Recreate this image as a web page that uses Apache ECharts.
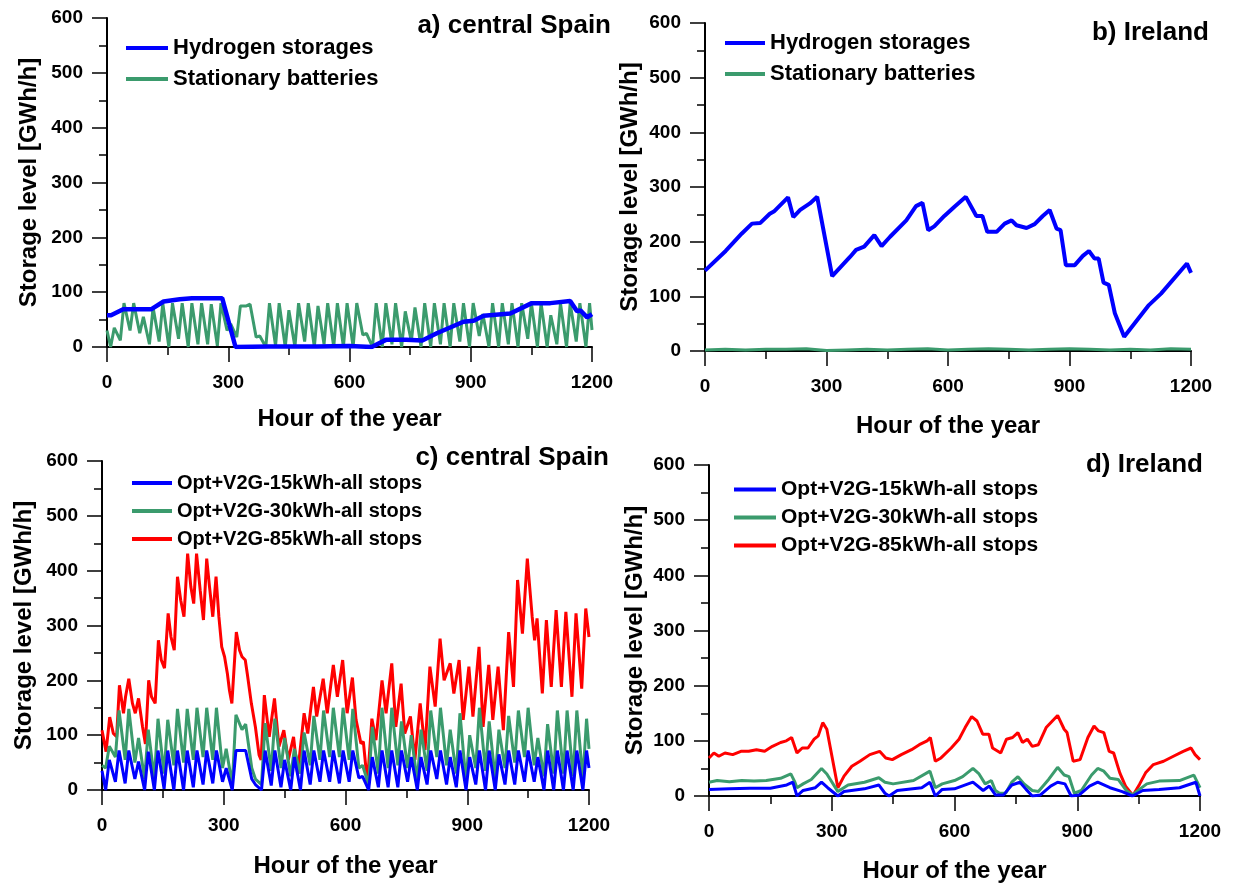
<!DOCTYPE html>
<html>
<head>
<meta charset="utf-8">
<script src="https://cdn.jsdelivr.net/npm/echarts@6/dist/echarts.min.js"></script>
<style>
html,body{margin:0;padding:0;background:#fff;}
#chart{width:1238px;height:884px;}
</style>
</head>
<body>
<div id="chart"></div>
<script>
// ---------- DATA ----------
const xTickLabels = ['0', '300', '600', '900', '1200'];
const yTickLabels = ['0', '100', '200', '300', '400', '500', '600'];

// hours sampled at daily trough / peak for the oscillating series
const dailyHours = [0,
  9,18, 33,42, 57,66, 81,90, 105,114, 129,138, 153,162, 177,186, 201,210, 225,234,
  249,258, 273,282, 297,306, 321,330, 345,354, 369,378, 393,402, 417,426, 441,450, 465,474,
  489,498, 513,522, 537,546, 561,570, 585,594, 609,618, 633,642, 657,666, 681,690, 705,714,
  729,738, 753,762, 777,786, 801,810, 825,834, 849,858, 873,882, 897,906, 921,930, 945,954,
  969,978, 993,1002, 1017,1026, 1041,1050, 1065,1074, 1089,1098, 1113,1122, 1137,1146, 1161,1170, 1185,1194,
  1200];

// a) central Spain
const h2SpainHours = [0,10,40,110,140,180,210,285,318,400,520,600,655,690,740,780,816,882,907,932,998,1051,1097,1146,1163,1171,1188,1200];
const h2SpainVals  = [58,58,69,69,83,87,89,89,0,1,1,2,0,13,13,12,25,46,48,57,61,80,80,84,65,67,54,60];
const batSpainVals = [30,
  0,35, 12,80, 30,80, 25,55, 5,72, 10,80, 0,80, 15,80, 0,80, 5,80,
  5,78, 2,80, 30,42, 18,75, 75,78, 18,20, 0,80, 2,80, 0,67, 0,80,
  10,80, 0,75, 5,80, 0,80, 0,80, 0,80, 22,25, 0,80, 0,80, 5,80,
  0,65, 10,72, 0,80, 0,80, 5,80, 0,80, 10,80, 0,80, 20,60, 0,80,
  0,80, 5,80, 0,80, 15,80, 0,80, 0,58, 5,80, 0,80, 10,80, 0,80,
  31];

// b) Ireland
const h2IrelandHours = [0,51,91,116,136,160,170,205,218,235,259,277,314,358,373,393,418,436,457,497,
  521,537,551,566,591,616,644,670,685,697,720,740,757,769,794,814,834,851,868,878,
  891,913,933,948,962,972,984,997,1012,1035,1096,1126,1190,1200];
const h2IrelandVals = [147,183,215,233,234,251,255,281,245,258,270,282,137,172,185,191,212,192,209,239,
  265,271,221,228,247,264,282,247,247,218,218,233,239,230,225,232,247,258,224,221,
  157,157,174,183,169,169,125,121,69,26,84,105,160,143];
const batIrelandHours = [0,50,100,150,200,250,300,350,400,450,500,550,600,650,700,750,800,850,900,950,1000,1050,1100,1150,1200];
const batIrelandVals  = [2,3,2,3,3,4,1,2,3,2,3,4,2,3,4,3,2,3,4,3,2,3,2,4,3];

// c) central Spain V2G
const v2g15SpainVals = [35,
  0,55, 15,72, 12,72, 20,52, 0,70, 0,72, 2,72, 0,72, 0,72, 5,72,
  10,72, 12,72, 15,40, 0,72, 72,72, 20,10, 0,72, 8,72, 5,55, 0,60,
  0,72, 10,72, 15,72, 15,72, 12,72, 15,72, 22,25, 0,60, 5,72, 5,72,
  5,72, 15,60, 0,60, 10,72, 20,72, 10,60, 5,72, 0,60, 10,72, 0,72,
  0,65, 10,72, 10,72, 15,72, 15,60, 0,72, 0,72, 0,72, 0,72, 0,72,
  40];
const v2g30SpainVals = [45,
  40,80, 60,145, 55,148, 50,95, 20,110, 20,130, 30,128, 45,148, 50,148, 55,150,
  60,150, 55,150, 40,75, 10,137, 110,120, 40,20, 10,122, 35,130, 40,95, 25,75,
  30,105, 45,135, 55,145, 60,150, 60,150, 55,148, 40,45, 10,115, 30,150, 40,150,
  45,125, 40,100, 15,110, 35,145, 60,150, 45,110, 30,140, 15,100, 40,150, 35,125,
  20,110, 40,135, 50,145, 60,150, 45,95, 25,120, 30,145, 30,145, 25,145, 20,130,
  75];
const v2g85SpainHours = [0,10,19,28,36,43,53,58,66,75, 82,90,100,107,115,122,131,139,146,154,
  163,170,178,186,194,202,211,219,226,233, 242,250,258,265,273,281,288,295,302,309,
  314,320,331,339,345,353,358,368,378,387, 392,400,412,425,436,448,459,472,482,498,
  507,521,529,545,555,570,580,593,604,617, 626,638,644,654,665,675,690,700,714,724,
  737,746,760,771,784,796,808,821,833,843, 858,867,880,890,904,914,929,939,953,963,
  976,989,1002,1014,1024,1036,1048,1060,1066,1072, 1085,1095,1107,1119,1132,1143,1158,1168,1182,1192, 1200];
const v2g85SpainVals = [109,70,133,103,97,191,140,170,203,158, 140,167,115,84,200,170,158,273,237,222,
  322,279,255,389,346,316,431,370,340,431, 364,310,422,370,316,389,316,261,243,212,
  182,158,288,255,243,237,212,158,115,64, 55,173,97,167,79,109,55,97,30,140,
  103,188,134,203,140,228,170,237,140,205, 128,85,88,12,130,91,200,140,231,115,
  194,103,134,55,158,73,225,152,276,200, 231,176,237,128,225,134,261,115,228,128,
  225,109,288,188,383,285,422,316,273,313, 176,310,188,328,188,325,170,322,185,331, 279];

// d) Ireland V2G
const v2g15IrelandHours = [0,50,100,150,190,205,215,230,260,275, 290,315,330,380,415,430,440,460,520,540,
  553,570,600,645,670,685,700,720,740,760, 775,790,810,835,852,870,885,905,930,950, 980,1010,1035,1060,1100,1150,1190,1200];
const v2g15IrelandVals = [12,13,14,14,20,25,0,10,15,25, 15,0,8,13,20,5,0,10,15,25,
  0,12,13,25,10,18,2,2,20,25, 12,0,2,18,25,22,0,2,18,25, 15,8,0,10,12,15,25,0];
const v2g30IrelandHours = [0,20,50,80,110,140,175,200,210,215, 230,250,275,288,315,340,380,415,430,450,
  500,540,553,570,600,620,645,660,675,690, 700,710,725,740,755,770,790,805,830,852,
  868,880,893,910,935,950,965,980,1000,1020, 1035,1052,1070,1100,1150,1185,1200];
const v2g30IrelandVals = [25,28,26,28,27,28,32,40,25,15, 22,30,50,40,8,20,25,33,25,22,
  28,45,15,22,28,35,50,40,22,28, 10,5,5,25,35,22,10,8,30,52,
  38,35,5,10,38,50,45,32,30,10, 2,12,22,27,28,38,15];
const v2g85IrelandHours = [0,12,24,39,58,78,97,116,136,155, 175,189,202,215,228,242,257,267,278,288,
  315,330,349,369,393,417,432,448,470,495, 514,533,541,553,567,592,611,626,642,655,
  669,684,693,713,727,742,755,766,778,790, 805,824,852,868,875,890,907,926,941,952,
  965,978,989,1004,1018,1036,1052,1067,1086,1111, 1135,1159,1178,1188,1200];
const v2g85IrelandVals = [69,78,72,78,75,81,81,84,81,90, 97,100,106,78,87,87,103,109,133,121,
  15,36,54,63,75,81,69,66,75,84, 93,100,106,63,69,87,103,124,144,136,
  112,112,87,78,103,106,115,97,103,90, 93,124,146,121,115,63,66,106,127,118,
  115,81,78,42,18,1,21,42,57,63, 72,81,87,75,66];

const panelTitles = ['a) central Spain', 'b) Ireland', 'c) central Spain', 'd) Ireland'];
const xTitle = 'Hour of the year';
const yTitle = 'Storage level [GWh/h]';
const namesTop = ['Hydrogen storages', 'Stationary batteries'];
const namesBottom = ['Opt+V2G-15kWh-all stops', 'Opt+V2G-30kWh-all stops', 'Opt+V2G-85kWh-all stops'];

// ---------- CHART ----------
const FONT = "'Liberation Sans', Arial, sans-serif";
const BLUE = '#0000ff', GREEN = '#3b9b6d', RED = '#ff0000';
const zip = (h, v) => h.map((x, i) => [x, v[i]]);

const grids = [
  {left: 107, top: 18, width: 485, height: 329},
  {left: 705, top: 23, width: 486, height: 328},
  {left: 102, top: 461, width: 487, height: 329},
  {left: 709, top: 465, width: 491, height: 332}
];
const yNameGaps = [66, 63, 66, 62];
const xNameGaps = [60, 63, 64, 63];

function xAxis(i) {
  return {
    gridIndex: i, type: 'value', min: 0, max: 1200, interval: 300,
    name: xTitle, nameLocation: 'middle', nameGap: xNameGaps[i],
    nameTextStyle: {fontFamily: FONT, fontWeight: 'bold', fontSize: 24, color: '#000'},
    axisLine: {show: true, onZero: false, lineStyle: {color: '#000', width: 2}},
    axisTick: {show: true, inside: false, length: 15, lineStyle: {color: '#000', width: 1.5}},
    minorTick: {show: true, splitNumber: 2, length: 8, lineStyle: {color: '#000', width: 1.5}},
    splitLine: {show: false}, minorSplitLine: {show: false},
    axisLabel: {margin: 26, fontFamily: FONT, fontWeight: 'bold', fontSize: 19, color: '#000',
      formatter: v => xTickLabels[Math.round(v / 300)]}
  };
}
function yAxis(i) {
  return {
    gridIndex: i, type: 'value', min: 0, max: 600, interval: 100,
    name: yTitle, nameLocation: 'middle', nameGap: yNameGaps[i], nameRotate: 90,
    nameTextStyle: {fontFamily: FONT, fontWeight: 'bold', fontSize: 24, color: '#000'},
    axisLine: {show: true, onZero: false, lineStyle: {color: '#000', width: 2}},
    axisTick: {show: true, inside: false, length: 15, lineStyle: {color: '#000', width: 1.5}},
    minorTick: {show: true, splitNumber: 2, length: 8, lineStyle: {color: '#000', width: 1.5}},
    splitLine: {show: false}, minorSplitLine: {show: false},
    axisLabel: {margin: 24, fontFamily: FONT, fontWeight: 'bold', fontSize: 19, color: '#000',
      formatter: v => yTickLabels[Math.round(v / 100)]}
  };
}
function line(name, i, data, color, width, z) {
  return {
    name, type: 'line', xAxisIndex: i, yAxisIndex: i, data,
    showSymbol: false, symbol: 'none', smooth: false, z: z,
    itemStyle: {color}, lineStyle: {color, width}, emphasis: {disabled: true}
  };
}
function legend(names, left, top, fontSize, gap, w) {
  return {
    data: names, orient: 'vertical', left, top, padding: 0, itemGap: gap,
    itemWidth: w, itemHeight: 4, icon: 'rect', selectedMode: false,
    textStyle: {fontFamily: FONT, fontWeight: 'bold', fontSize, color: '#000'}
  };
}
function title(text, right, top) {
  return {text, right, top, padding: 0,
    textStyle: {fontFamily: FONT, fontWeight: 'bold', fontSize: 26, color: '#000'}};
}

const option = {
  backgroundColor: '#fff',
  animation: false,
  title: [
    title(panelTitles[0], 627, 13),
    title(panelTitles[1], 29, 20),
    title(panelTitles[2], 629, 445),
    title(panelTitles[3], 35, 452)
  ],
  legend: [
    legend(namesTop, 126, 37, 22, 9, 42),
    legend(namesTop, 725, 32, 22, 9, 40),
    legend(namesBottom, 132, 473, 20, 8, 40),
    legend(namesBottom, 734, 479, 21, 7, 42)
  ],
  grid: grids,
  xAxis: [0, 1, 2, 3].map(xAxis),
  yAxis: [0, 1, 2, 3].map(yAxis),
  series: [
    line(namesTop[1], 0, zip(dailyHours, batSpainVals), GREEN, 3, 2),
    line(namesTop[0], 0, zip(h2SpainHours, h2SpainVals), BLUE, 4.5, 3),
    line(namesTop[1], 1, zip(batIrelandHours, batIrelandVals), GREEN, 3, 2),
    line(namesTop[0], 1, zip(h2IrelandHours, h2IrelandVals), BLUE, 4, 3),
    line(namesBottom[2], 2, zip(v2g85SpainHours, v2g85SpainVals), RED, 3, 2),
    line(namesBottom[1], 2, zip(dailyHours, v2g30SpainVals), GREEN, 3, 3),
    line(namesBottom[0], 2, zip(dailyHours, v2g15SpainVals), BLUE, 3, 4),
    line(namesBottom[2], 3, zip(v2g85IrelandHours, v2g85IrelandVals), RED, 3, 2),
    line(namesBottom[1], 3, zip(v2g30IrelandHours, v2g30IrelandVals), GREEN, 3, 3),
    line(namesBottom[0], 3, zip(v2g15IrelandHours, v2g15IrelandVals), BLUE, 3, 4)
  ]
};

const chart = echarts.init(document.getElementById('chart'), null, {renderer: 'canvas'});
chart.setOption(option);
</script>
</body>
</html>
